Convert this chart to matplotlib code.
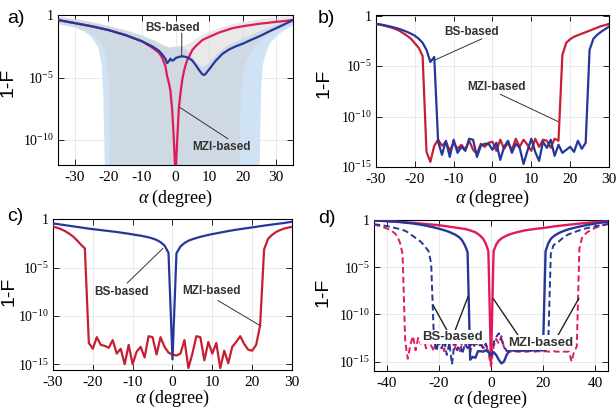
import numpy as np
import matplotlib
matplotlib.use('Agg')
import matplotlib.pyplot as plt

plt.rcParams['font.family'] = 'Liberation Serif'
plt.rcParams['mathtext.fontset'] = 'custom'
plt.rcParams['mathtext.rm'] = 'Liberation Serif'
plt.rcParams['mathtext.it'] = 'Liberation Serif:italic'
plt.rcParams['axes.unicode_minus'] = False

# ---- data (values are log10(1-F)) ----
# a) with uncertainty bands
a_x_bs = [-35, -30, -25, -20, -15, -10, -7, -5, -4, -3, -2.5, -2, -1.5, -1, -0.5, 0, 1, 2, 3, 4, 5, 6, 7,
          8, 8.5, 9, 10, 11, 12, 14, 16, 18, 20, 22, 25, 28, 30, 32, 35]
a_bs = [-0.4, -0.65, -0.9, -1.2, -1.6, -2.1, -2.5, -2.85, -3.15, -3.5, -3.85, -3.7, -3.5, -3.65, -3.6, -3.45,
        -3.35, -3.3, -3.35, -3.45, -3.65, -4.0, -4.4, -4.75, -4.8, -4.7, -4.35, -4.0, -3.65, -3.1, -2.75,
        -2.5, -2.3, -2.05, -1.7, -1.3, -1.05, -0.8, -0.4]
a_x_mzi = [-35, -30, -25, -20, -15, -10, -7, -6, -5, -4, -3, -2.5, -2, -1.5, -1, -0.5, 0, 0.5, 1, 1.5, 2,
           2.5, 3, 3.5, 4, 5, 6, 8, 10, 13, 17, 20, 25, 30, 35]
a_mzi = [-0.4, -0.65, -0.9, -1.2, -1.6, -2.1, -2.6, -2.8, -3.0, -3.4, -4.1, -4.9, -5.4, -6.1, -7.6, -10, -13,
         -10, -7.4, -6.2, -5.2, -4.5, -4.0, -3.6, -3.35, -2.8, -2.5, -2.0, -1.75, -1.4, -1.05, -0.9, -0.7,
         -0.55, -0.4]
band_bs_xu = [-35, -30, -25, -20, -15, -10, -6, -4, -2, 0, 2, 4, 6, 8, 10, 12, 15, 20, 25, 30, 35]
band_bs_up = [-0.15, -0.35, -0.6, -0.9, -1.25, -1.65, -2.1, -2.4, -2.6, -2.5, -2.5, -3.0, -3.7, -4.2, -3.8,
              -3.2, -2.5, -1.9, -1.3, -0.75, -0.25]
band_bs_xl = [-35, -30, -27, -25, -23, -22, -21.5, -21, 25, 25.5, 26, 27, 28, 30, 32, 35]
band_bs_lo = [-0.75, -1.0, -1.35, -1.8, -2.6, -4.0, -6.5, -13, -13, -6, -4, -3, -2.3, -1.7, -1.3, -0.85]
band_mzi_xu = [-35, -30, -25, -20, -15, -10, -5, -2, 0, 2, 4, 6, 8, 10, 13, 18, 25, 30, 35]
band_mzi_up = [-0.15, -0.3, -0.55, -0.85, -1.2, -1.6, -2.2, -2.6, -2.6, -2.5, -2.3, -1.9, -1.6, -1.35,
               -1.05, -0.65, -0.35, -0.2, -0.1]
band_mzi_xl = [-35, -30, -25, -22, -20.5, -19.8, -19.5, 19, 19.5, 20.5, 22, 24, 27, 30, 35]
band_mzi_lo = [-0.7, -0.95, -1.5, -2.3, -3.5, -6, -13, -13, -6, -4.2, -3.2, -2.4, -1.7, -1.3, -0.7]

# b)
b_x = list(range(-30, 31))
b_mzi = [-0.83, -0.9, -1.0, -1.1, -1.2, -1.33, -1.5, -1.75, -2.0, -2.3, -2.75, -3.2, -4.0, -13.5, -14.5,
         -12.9, -12.3, -12.9, -12.5, -13.4, -12.6, -13.2, -12.8, -13.3, -12.4, -13.3, -13.7, -12.7, -13.0,
         -12.6, -12.5, -13.4, -12.3, -13.2, -12.6, -13.3, -12.2, -13.0, -12.3, -12.8, -13.4, -12.2, -13.0,
         -12.3, -12.4, -13.1, -12.2, -12.4, -3.9, -2.7, -2.35, -2.1, -1.95, -1.8, -1.65, -1.5, -1.35, -1.2,
         -1.05, -0.95, -0.83]
b_bs = [-0.83, -0.88, -0.95, -1.03, -1.12, -1.22, -1.33, -1.47, -1.62, -1.8, -2.0, -2.3, -2.7, -3.4, -4.6,
        -4.1, -12.5, -13.8, -12.4, -14.0, -12.3, -13.6, -13.0, -13.4, -12.2, -12.3, -14.0, -12.9, -12.7,
        -12.7, -13.3, -12.6, -14.3, -13.0, -12.4, -13.6, -12.7, -13.1, -14.7, -13.4, -12.2, -13.5, -14.4,
        -12.5, -13.1, -12.3, -13.9, -12.8, -13.6, -13.3, -13.0, -13.5, -12.4, -13.2, -12.6, -3.4, -2.3,
        -1.9, -1.6, -1.35, -1.1]

# c)
c_x = list(range(-30, 31))
c_bs = [-0.42, -0.47, -0.53, -0.59, -0.65, -0.71, -0.77, -0.83, -0.89, -0.95, -1.0, -1.05, -1.1, -1.15,
        -1.2, -1.25, -1.3, -1.36, -1.42, -1.48, -1.55, -1.62, -1.68, -1.76, -1.85, -1.97, -2.12, -2.35, -2.7,
        -3.45, -14.5, -3.5, -2.8, -2.45, -2.2, -2.05, -1.92, -1.8, -1.7, -1.6, -1.52, -1.44, -1.36, -1.28,
        -1.2, -1.13, -1.06, -1.0, -0.94, -0.88, -0.82, -0.76, -0.7, -0.64, -0.58, -0.53, -0.47, -0.42, -0.37,
        -0.3, -0.24]
c_mzi = [-0.75, -0.85, -1.0, -1.2, -1.45, -1.75, -2.15, -2.6, -3.0, -12.8, -13.4, -12.2, -13.0, -13.1,
         -13.3, -12.5, -13.9, -13.4, -15.0, -13.0, -15.0, -13.7, -13.2, -14.3, -12.1, -12.2, -14.0, -12.2,
         -13.2, -13.8, -14.0, -14.1, -13.9, -12.5, -15.4, -13.9, -12.1, -12.2, -14.6, -12.7, -13.9, -12.8,
         -15.4, -13.6, -14.9, -13.2, -12.7, -12.1, -12.9, -13.5, -13.6, -13.0, -11.0, -3.1, -2.0, -1.6, -1.3,
         -1.1, -0.95, -0.85, -0.76]

# d)
d_x = list(range(-45, 46))
d_mzi = [-0.05, -0.06, -0.08, -0.09, -0.11, -0.12, -0.14, -0.15, -0.17, -0.19, -0.2, -0.22, -0.24, -0.26,
         -0.28, -0.3, -0.32, -0.35, -0.37, -0.4, -0.42, -0.45, -0.47, -0.5, -0.52, -0.55, -0.59, -0.63, -0.67,
         -0.71, -0.75, -0.79, -0.83, -0.87, -0.91, -0.95, -1.02, -1.1, -1.2, -1.3, -1.48, -1.7, -2.0, -2.5,
         -3.3, -15.3, -3.3, -2.6, -2.2, -1.95, -1.8, -1.65, -1.55, -1.45, -1.37, -1.3, -1.23, -1.17, -1.1,
         -1.06, -1.02, -0.98, -0.95, -0.91, -0.88, -0.85, -0.81, -0.77, -0.73, -0.69, -0.65, -0.62, -0.59,
         -0.56, -0.53, -0.5, -0.47, -0.44, -0.41, -0.38, -0.35, -0.32, -0.3, -0.27, -0.25, -0.22, -0.2, -0.18,
         -0.16, -0.14, -0.12]
d_bs = [-0.05, -0.06, -0.08, -0.09, -0.1, -0.12, -0.14, -0.16, -0.18, -0.2, -0.22, -0.25, -0.28, -0.31,
        -0.34, -0.37, -0.41, -0.45, -0.5, -0.55, -0.6, -0.66, -0.72, -0.78, -0.85, -0.92, -1.0, -1.08, -1.17,
        -1.27, -1.4, -1.52, -1.68, -1.88, -2.2, -2.7, -3.4, -14.8, -14.5, -14.6, -13.9, -13.9, -13.95, -13.8,
        -14.0, -14.3, -14.0, -14.3, -14.8, -15.2, -15.0, -14.3, -13.9, -13.8, -13.85, -13.85, -13.8, -13.85,
        -13.8, -13.8, -13.85, -13.8, -13.8, -13.75, -13.8, -13.8, -3.3, -2.5, -2.0, -1.75, -1.55, -1.4,
        -1.27, -1.16, -1.06, -0.97, -0.9, -0.83, -0.76, -0.7, -0.64, -0.58, -0.53, -0.48, -0.43, -0.38,
        -0.34, -0.3, -0.26, -0.22, -0.18]
d_bs_dash = [-0.45, -0.48, -0.52, -0.56, -0.6, -0.65, -0.71, -0.78, -0.84, -0.9, -0.97, -1.05, -1.15, -1.3,
             -1.5, -1.7, -1.9, -2.1, -2.3, -2.6, -2.95, -3.3, -4.6, -12.2, -13.9, -12.6, -13.6, -12.8, -14.3,
             -13.0, -15.3, -12.9, -13.8, -12.7, -14.2, -13.1, -13.6, -12.9, -13.5, -13.0, -13.4, -13.2, -13.6,
             -13.1, -13.9, -14.6, -13.0, -12.4, -12.0, -12.6, -13.5, -13.8, -13.85, -13.8, -13.8, -13.85,
             -13.8, -13.85, -13.8, -13.8, -13.85, -13.8, -13.8, -13.85, -13.8, -13.8, -13.8, -13.3, -3.6,
             -2.7, -2.45, -2.3, -2.05, -1.85, -1.65, -1.5, -1.4, -1.3, -1.2, -1.1, -1.0, -0.93, -0.86, -0.8,
             -0.74, -0.68, -0.63, -0.58, -0.53, -0.49, -0.45]
d_mzi_dash = [-0.5, -0.55, -0.62, -0.7, -0.8, -0.9, -1.03, -1.2, -1.4, -1.75, -2.4, -3.6, -12.8, -14.7,
              -13.2, -12.3, -13.8, -12.5, -13.1, -12.2, -13.6, -12.7, -13.3, -13.9, -12.6, -13.4, -12.4,
              -13.9, -12.8, -13.3, -12.5, -13.7, -12.6, -13.9, -12.9, -13.4, -12.6, -14.0, -13.0, -13.5,
              -13.0, -12.8, -13.6, -13.2, -14.0, -15.5, -13.4, -12.6, -13.1, -12.3, -13.5, -13.9, -13.95,
              -13.95, -13.9, -13.95, -13.95, -13.9, -13.95, -13.95, -13.9, -13.95, -13.95, -13.9, -13.95,
              -13.95, -13.9, -13.95, -13.95, -13.9, -13.95, -13.95, -13.9, -13.95, -13.95, -13.95, -15.0,
              -13.9, -13.4, -3.0, -1.9, -1.55, -1.3, -1.12, -0.98, -0.85, -0.74, -0.64, -0.55, -0.47, -0.4]

blue = '#25379a'
red_ad = '#e3195a'
red_bc = '#c81e32'
ann_col = '#333333'
sans = 'Liberation Sans'


def p(v):
    return 10.0 ** np.array(v)


def setup(ax, xlim, xticks, ylim, yexps):
    ax.set_yscale('log')
    ax.set_xlim(xlim)
    ax.set_ylim(10.0 ** ylim[0], 10.0 ** ylim[1])
    ax.set_xticks(xticks)
    ax.set_xticklabels([str(t) for t in xticks])
    ax.set_yticks([10.0 ** e for e in yexps])
    ax.set_yticklabels(['1' if e == 0 else r'$\mathrm{10^{%d}}$' % e for e in yexps])
    ax.minorticks_off()
    ax.tick_params(direction='in', top=True, right=True, length=4, width=0.6, pad=3)
    ax.tick_params(axis='x', labelsize=11, pad=4.5)
    ax.tick_params(axis='y', labelsize=10)
    ax.grid(True, color='#e6e6e6', lw=0.6)
    ax.set_axisbelow(True)
    for s in ax.spines.values():
        s.set_linewidth(0.8)
    ax.set_xlabel(r'$\alpha$ (degree)', fontsize=13)
    ax.set_ylabel('1-F', fontsize=14, family=sans)


def note(ax, text, x, y, size=8.5, box=False):
    kw = dict(fontsize=size, family=sans, fontweight='bold', color=ann_col,
              ha='center', va='center', zorder=6)
    if box:
        kw['bbox'] = dict(facecolor='white', edgecolor='none', pad=1.0)
    ax.text(x, 10.0 ** y, text, **kw)


def leader(ax, x0, y0, x1, y1, lw=0.7, color=ann_col):
    ax.annotate('', xy=(x1, 10.0 ** y1), xytext=(x0, 10.0 ** y0),
                arrowprops=dict(arrowstyle='-', color=color, lw=lw, shrinkA=0, shrinkB=0), zorder=5)


fig = plt.figure(figsize=(6.16, 4.09), dpi=100)
ax_a = fig.add_axes([0.0942, 0.5966, 0.3815, 0.3667])
ax_b = fig.add_axes([0.6104, 0.5917, 0.3782, 0.3716])
ax_c = fig.add_axes([0.0860, 0.0954, 0.3880, 0.3692])
ax_d = fig.add_axes([0.6071, 0.0929, 0.3799, 0.3692])

# a)
setup(ax_a, (-35, 35), [-30, -20, -10, 0, 10, 20, 30], (-12, 0), [0, -5, -10])
ax_a.fill(band_bs_xu + band_bs_xl[::-1], p(band_bs_up + band_bs_lo[::-1]),
          color='#d0e3f4', lw=0, zorder=1)
ax_a.fill(band_mzi_xu + band_mzi_xl[::-1], p(band_mzi_up + band_mzi_lo[::-1]),
          color='#cfcfcf', alpha=0.45, lw=0, zorder=1.5)
ax_a.plot(a_x_mzi, p(a_mzi), color=red_ad, lw=1.6, zorder=3)
ax_a.plot(a_x_bs, p(a_bs), color=blue, lw=1.6, zorder=3)
note(ax_a, 'BS-based', -1, -1.04)
leader(ax_a, 1.85, -1.45, 1.85, -3.35)
note(ax_a, 'MZI-based', 13.6, -10.6)
leader(ax_a, 15.6, -9.9, 1.3, -7.4)

# b)
setup(ax_b, (-30, 30), [-30, -20, -10, 0, 10, 20, 30], (-15, 0.05), [0, -5, -10, -15])
ax_b.plot(b_x, p(b_mzi), color=red_bc, lw=1.6, zorder=3)
ax_b.plot(b_x, p(b_bs), color=blue, lw=1.6, zorder=3)
note(ax_b, 'BS-based', -5.5, -1.6)
leader(ax_b, -2.7, -2.3, -14.8, -4.4)
note(ax_b, 'MZI-based', 1.0, -7.1)
leader(ax_b, 2.0, -7.8, 16.9, -10.5)

# c)
setup(ax_c, (-30, 30), [-30, -20, -10, 0, 10, 20, 30], (-15.6, 0.05), [0, -5, -10, -15])
ax_c.plot(c_x, p(c_mzi), color=red_bc, lw=1.6, zorder=3)
ax_c.plot(c_x, p(c_bs), color=blue, lw=1.6, zorder=3)
note(ax_c, 'BS-based', -12.9, -7.5)
leader(ax_c, -11.4, -6.6, -2.4, -3.0)
note(ax_c, 'MZI-based', 9.7, -7.4)
leader(ax_c, 11.4, -8.4, 22.0, -11.0)

# d)
setup(ax_d, (-45, 45), [-40, -20, 0, 20, 40], (-16, 0), [0, -5, -10, -15])
dash = (0, (3.2, 1.8))
ax_d.plot(d_x, p(d_mzi_dash), color=red_ad, lw=1.4, ls=dash, zorder=3)
ax_d.plot(d_x, p(d_bs_dash), color=blue, lw=1.4, ls=dash, zorder=3)
ax_d.plot(d_x, p(d_mzi), color=red_ad, lw=1.7, zorder=3)
ax_d.plot(d_x, p(d_bs), color=blue, lw=1.7, zorder=3)
note(ax_d, 'BS-based', -15.0, -12.4, size=9.5, box=True)
leader(ax_d, -16.9, -11.7, -22.3, -9.0, lw=1.0, color='#222222')
leader(ax_d, -13.8, -11.7, -8.8, -8.1, lw=1.0, color='#222222')
note(ax_d, 'MZI-based', 19.2, -13.0, size=9.5, box=True)
leader(ax_d, 10.4, -12.2, 0.8, -8.3, lw=1.0, color='#222222')
leader(ax_d, 25.8, -12.2, 33.8, -8.3, lw=1.0, color='#222222')

# label placement
ax_a.yaxis.set_label_coords(-0.175, 0.55)
ax_b.yaxis.set_label_coords(-0.185, 0.55)
ax_c.yaxis.set_label_coords(-0.15, 0.52)
ax_d.yaxis.set_label_coords(-0.18, 0.52)
ax_a.xaxis.set_label_coords(0.5, -0.15)
ax_b.xaxis.set_label_coords(0.5, -0.14)
ax_c.xaxis.set_label_coords(0.5, -0.12)
ax_d.xaxis.set_label_coords(0.5, -0.12)

for lab, (x, y) in zip(['a)', 'b)', 'c)', 'd)'],
                       [(7, 10), (318, 10), (7, 208), (318, 210)]):
    fig.text(x / 616, 1 - y / 409, lab, fontsize=14, family=sans, va='top', ha='left')

fig.savefig('out.png', dpi=100)
